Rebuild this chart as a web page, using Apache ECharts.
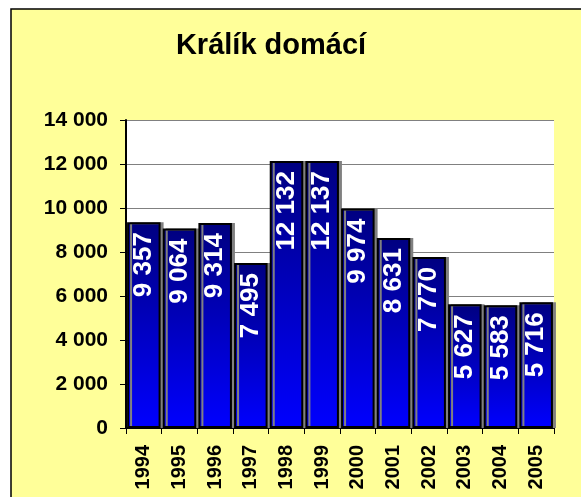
<!DOCTYPE html>
<html>
<head>
<meta charset="utf-8">
<script src="https://cdn.jsdelivr.net/npm/echarts@6/dist/echarts.min.js"></script>
<style>
  html, body { margin: 0; padding: 0; background: #ffffff; }
  #chart { width: 581px; height: 497px; }
</style>
</head>
<body>
<div id="chart"></div>
<script>
// Rabbit counts per year
const years = ['1994', '1995', '1996', '1997', '1998', '1999', '2000', '2001', '2002', '2003', '2004', '2005'];
const counts = [9357, 9064, 9314, 7495, 12132, 12137, 9974, 8631, 7770, 5627, 5583, 5716];
const titleText = 'Králík domácí';
const yMin = 0, yMax = 14000, yStep = 2000;

const FONT = '"Liberation Sans", Arial, sans-serif';
const fmt = v => String(v).replace(/\B(?=(\d{3})+(?!\d))/g, ' ');

const chart = echarts.init(document.getElementById('chart'), null, { renderer: 'canvas' });
chart.setOption({
  animation: false,
  backgroundColor: '#ffffff',
  graphic: [
    {
      type: 'rect', z: -10, silent: true,
      shape: { x: 11, y: 9, width: 600, height: 520 },
      style: { fill: '#FFFF99', stroke: '#000000', lineWidth: 1.5 }
    },
    {
      type: 'rect', z: -5, silent: true,
      shape: { x: 126, y: 120, width: 428, height: 308 },
      style: { fill: '#ffffff' }
    }
  ],
  title: {
    text: titleText,
    left: 266, top: 26, textAlign: 'center',
    textStyle: { fontFamily: FONT, fontWeight: 'bold', fontSize: 29, color: '#000000' }
  },
  grid: { left: 126, top: 120, right: 27, bottom: 69, containLabel: false },
  xAxis: {
    type: 'category',
    data: years,
    axisLine: { lineStyle: { color: '#000000', width: 2 } },
    axisTick: { show: true, length: 6, lineStyle: { color: '#000000', width: 1 } },
    axisLabel: {
      rotate: 90, margin: 17, interval: 0,
      fontFamily: FONT, fontWeight: 'bold', fontSize: 20, color: '#000000'
    }
  },
  yAxis: {
    type: 'value', min: yMin, max: yMax, interval: yStep,
    axisLine: { show: true, lineStyle: { color: '#000000', width: 2 } },
    axisTick: { show: true, length: 6, lineStyle: { color: '#000000', width: 1 } },
    splitLine: { show: true, lineStyle: { color: '#808080', width: 1 } },
    axisLabel: {
      margin: 18, formatter: fmt,
      fontFamily: FONT, fontWeight: 'bold', fontSize: 21, color: '#000000'
    }
  },
  series: [{
    type: 'bar',
    data: counts,
    barCategoryGap: '6%',
    itemStyle: {
      color: new echarts.graphic.LinearGradient(0, 0, 0, 1, [
        { offset: 0, color: '#000080' },
        { offset: 1, color: '#0000FF' }
      ]),
      borderColor: '#000000',
      borderWidth: 2,
      shadowColor: '#808080',
      shadowOffsetX: 3,
      shadowOffsetY: 0,
      shadowBlur: 0
    },
    label: {
      show: true,
      position: 'insideTop',
      rotate: 90,
      align: 'right',
      verticalAlign: 'middle',
      distance: 10,
      formatter: p => fmt(p.value),
      fontFamily: FONT, fontWeight: 'bold', fontSize: 26, color: '#ffffff'
    }
  }]
});
</script>
</body>
</html>
